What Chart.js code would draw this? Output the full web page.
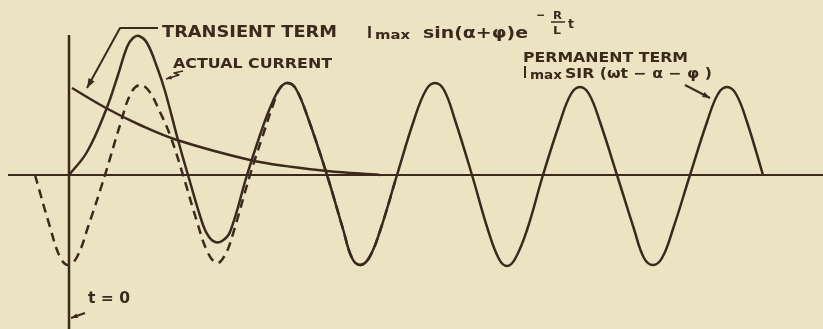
<!DOCTYPE html>
<html>
<head>
<meta charset="utf-8">
<script src="https://cdn.jsdelivr.net/npm/chart.js@4"></script>
<style>
  html, body { margin: 0; padding: 0; background: #ece3c3; }
  #wrap { width: 823px; height: 329px; }
</style>
</head>
<body>
<div id="wrap"><canvas id="chart" width="823" height="329"></canvas></div>
<script>
// Transient current in an R-L circuit switched on at t = 0
// x: time from t = 0, y: current (same arbitrary units as the drawing)

const actualX = [0, 18, 37, 49, 58, 64, 70, 78, 88, 96, 109, 119,
  134, 140, 146, 153, 161, 178,
  191, 201, 211, 219, 227, 239, 258,
  274, 283, 291, 300, 311, 328,
  345, 357, 366, 375, 386, 403,
  419, 430, 438, 446, 458, 474,
  491, 502, 511, 520, 531, 548,
  565, 575, 584, 593, 604, 621,
  638, 649, 658, 667, 678, 694];
const actualY = [0, 23, 65, 100, 128, 137, 139, 132, 108, 84, 35, 0,
  -50, -62, -67, -66, -57, 0,
  40, 67, 87, 92, 86, 57, 0,
  -54, -83, -90, -83, -56, 0,
  55, 85, 92, 85, 55, 0,
  -55, -84, -91, -84, -55, 0,
  53, 81, 88, 81, 53, 0,
  -54, -83, -90, -83, -54, 0,
  53, 81, 88, 81, 53, 0];

const permanentX = [-34, -19, -9, -1, 8, 19, 36, 51, 62, 71, 80, 90, 101, 114,
  129, 139, 148, 156, 163, 181,
  194, 204, 211, 219, 227, 239, 258,
  274, 283, 291, 300, 311, 328];
const permanentY = [0, -52, -82, -90, -82, -52, 0, 50, 82, 90, 84, 65, 40, 0,
  -50, -78, -88, -80, -62, 0,
  40, 70, 87, 92, 86, 57, 0,
  -54, -83, -90, -83, -56, 0];

const transientX = [3, 37, 71, 108, 181, 224, 258, 311];
const transientY = [87, 67, 50, 35, 15, 8, 4, 0];

const axisX = [-61, 754];
const axisYTop = 140;
const axisYBottom = -154;

const ink = '#3b2a1c';

function pts(xs, ys) {
  return xs.map((x, i) => ({ x: x, y: ys[i] }));
}

// text squeezed or stretched to the width it has in the drawing
function fitText(ctx, str, x, y, width, size, weight) {
  ctx.font = (weight || 'normal') + ' ' + size + 'px "DejaVu Sans"';
  const w = ctx.measureText(str).width;
  ctx.save();
  ctx.translate(x, y);
  ctx.scale(width / w, 1);
  ctx.fillText(str, 0, 0);
  ctx.restore();
}

function arrowHead(ctx, from, to, len) {
  const a = Math.atan2(to[1] - from[1], to[0] - from[0]);
  ctx.beginPath();
  ctx.moveTo(to[0], to[1]);
  ctx.lineTo(to[0] - len * Math.cos(a - 0.35), to[1] - len * Math.sin(a - 0.35));
  ctx.lineTo(to[0] - len * Math.cos(a + 0.35), to[1] - len * Math.sin(a + 0.35));
  ctx.closePath();
  ctx.fill();
}

const notes = {
  id: 'notes',
  afterDatasetsDraw(chart) {
    const ctx = chart.ctx;
    const sx = chart.scales.x, sy = chart.scales.y;
    const P = (a, b) => [sx.getPixelForValue(a), sy.getPixelForValue(b)];
    ctx.save();
    ctx.fillStyle = ink;
    ctx.strokeStyle = ink;
    ctx.lineWidth = 2;
    ctx.lineJoin = 'round';
    ctx.textBaseline = 'alphabetic';

    // leader for the transient term
    let a = P(89, 147), b = P(51, 147), c = P(18, 87);
    ctx.beginPath();
    ctx.moveTo(a[0], a[1]); ctx.lineTo(b[0], b[1]); ctx.lineTo(c[0], c[1]);
    ctx.stroke();
    arrowHead(ctx, b, c, 10);

    // squiggle for the actual current
    const sq = [P(114, 104), P(105, 102), P(110, 100), P(97, 96)];
    ctx.lineWidth = 1.5;
    ctx.beginPath();
    ctx.moveTo(sq[0][0], sq[0][1]);
    sq.slice(1).forEach(p => ctx.lineTo(p[0], p[1]));
    ctx.stroke();
    arrowHead(ctx, sq[2], sq[3], 6);

    // arrow for the permanent term
    ctx.lineWidth = 2;
    a = P(616, 90); b = P(641, 77);
    ctx.beginPath(); ctx.moveTo(a[0], a[1]); ctx.lineTo(b[0], b[1]); ctx.stroke();
    arrowHead(ctx, a, b, 8);

    // arrow for t = 0
    a = P(16, -138); b = P(2, -143);
    ctx.beginPath(); ctx.moveTo(a[0], a[1]); ctx.lineTo(b[0], b[1]); ctx.stroke();
    arrowHead(ctx, a, b, 7);

    // labels
    let t = P(93, 138);
    fitText(ctx, 'TRANSIENT TERM', t[0], t[1], 175, 15, 'bold');
    t = P(104, 107);
    fitText(ctx, 'ACTUAL CURRENT', t[0], t[1], 159, 14, 'bold');
    t = P(454, 113);
    fitText(ctx, 'PERMANENT TERM', t[0], t[1], 165, 14, 'bold');
    t = P(454, 97);
    fitText(ctx, 'I', t[0], t[1], 4, 15, 'bold');
    t = P(461, 96);
    fitText(ctx, 'max', t[0], t[1], 32, 12, 'bold');
    t = P(496, 97);
    fitText(ctx, 'SIR (ωt − α − φ )', t[0], t[1], 147, 14, 'bold');
    t = P(19, -128);
    fitText(ctx, 't = 0', t[0], t[1], 42, 16, 'bold');

    // Imax sin(α+φ) e^(-R/L t)
    t = P(298, 137);
    fitText(ctx, 'I', t[0], t[1], 5, 16, 'bold');
    t = P(306, 136);
    fitText(ctx, 'max', t[0], t[1], 35, 12, 'bold');
    t = P(354, 137);
    fitText(ctx, 'sin(α+φ)e', t[0], t[1], 105, 16, 'bold');
    t = P(467, 156);
    fitText(ctx, '−', t[0], t[1], 9, 12, 'bold');
    t = P(484, 156);
    fitText(ctx, 'R', t[0], t[1], 9, 10, 'bold');
    t = P(484, 141);
    fitText(ctx, 'L', t[0], t[1], 8, 10, 'bold');
    a = P(482, 153); b = P(496, 153);
    ctx.lineWidth = 1.5;
    ctx.beginPath(); ctx.moveTo(a[0], a[1]); ctx.lineTo(b[0], b[1]); ctx.stroke();
    t = P(499, 147);
    fitText(ctx, 't', t[0], t[1], 6, 12, 'bold');

    ctx.restore();
  }
};

const lineBase = {
  borderColor: ink,
  borderWidth: 2.5,
  pointRadius: 0,
  fill: false,
  clip: false,
  tension: 0.4
};

new Chart(document.getElementById('chart'), {
  type: 'line',
  data: {
    datasets: [
      Object.assign({}, lineBase, { label: 'axis', data: pts(axisX, [0, 0]), borderWidth: 2.2, tension: 0 }),
      Object.assign({}, lineBase, { label: 't = 0', data: pts([0, 0], [axisYTop, axisYBottom]), tension: 0 }),
      Object.assign({}, lineBase, { label: 'Transient term', data: pts(transientX, transientY) }),
      Object.assign({}, lineBase, { label: 'Permanent term', data: pts(permanentX, permanentY), borderDash: [9, 6] }),
      Object.assign({}, lineBase, { label: 'Actual current', data: pts(actualX, actualY) })
    ]
  },
  options: {
    responsive: false,
    animation: false,
    devicePixelRatio: 1,
    layout: { padding: 0 },
    plugins: { legend: { display: false }, tooltip: { enabled: false } },
    scales: {
      x: { type: 'linear', min: -69, max: 754, display: false },
      y: { type: 'linear', min: -154, max: 175, display: false }
    }
  },
  plugins: [notes]
});
</script>
</body>
</html>
